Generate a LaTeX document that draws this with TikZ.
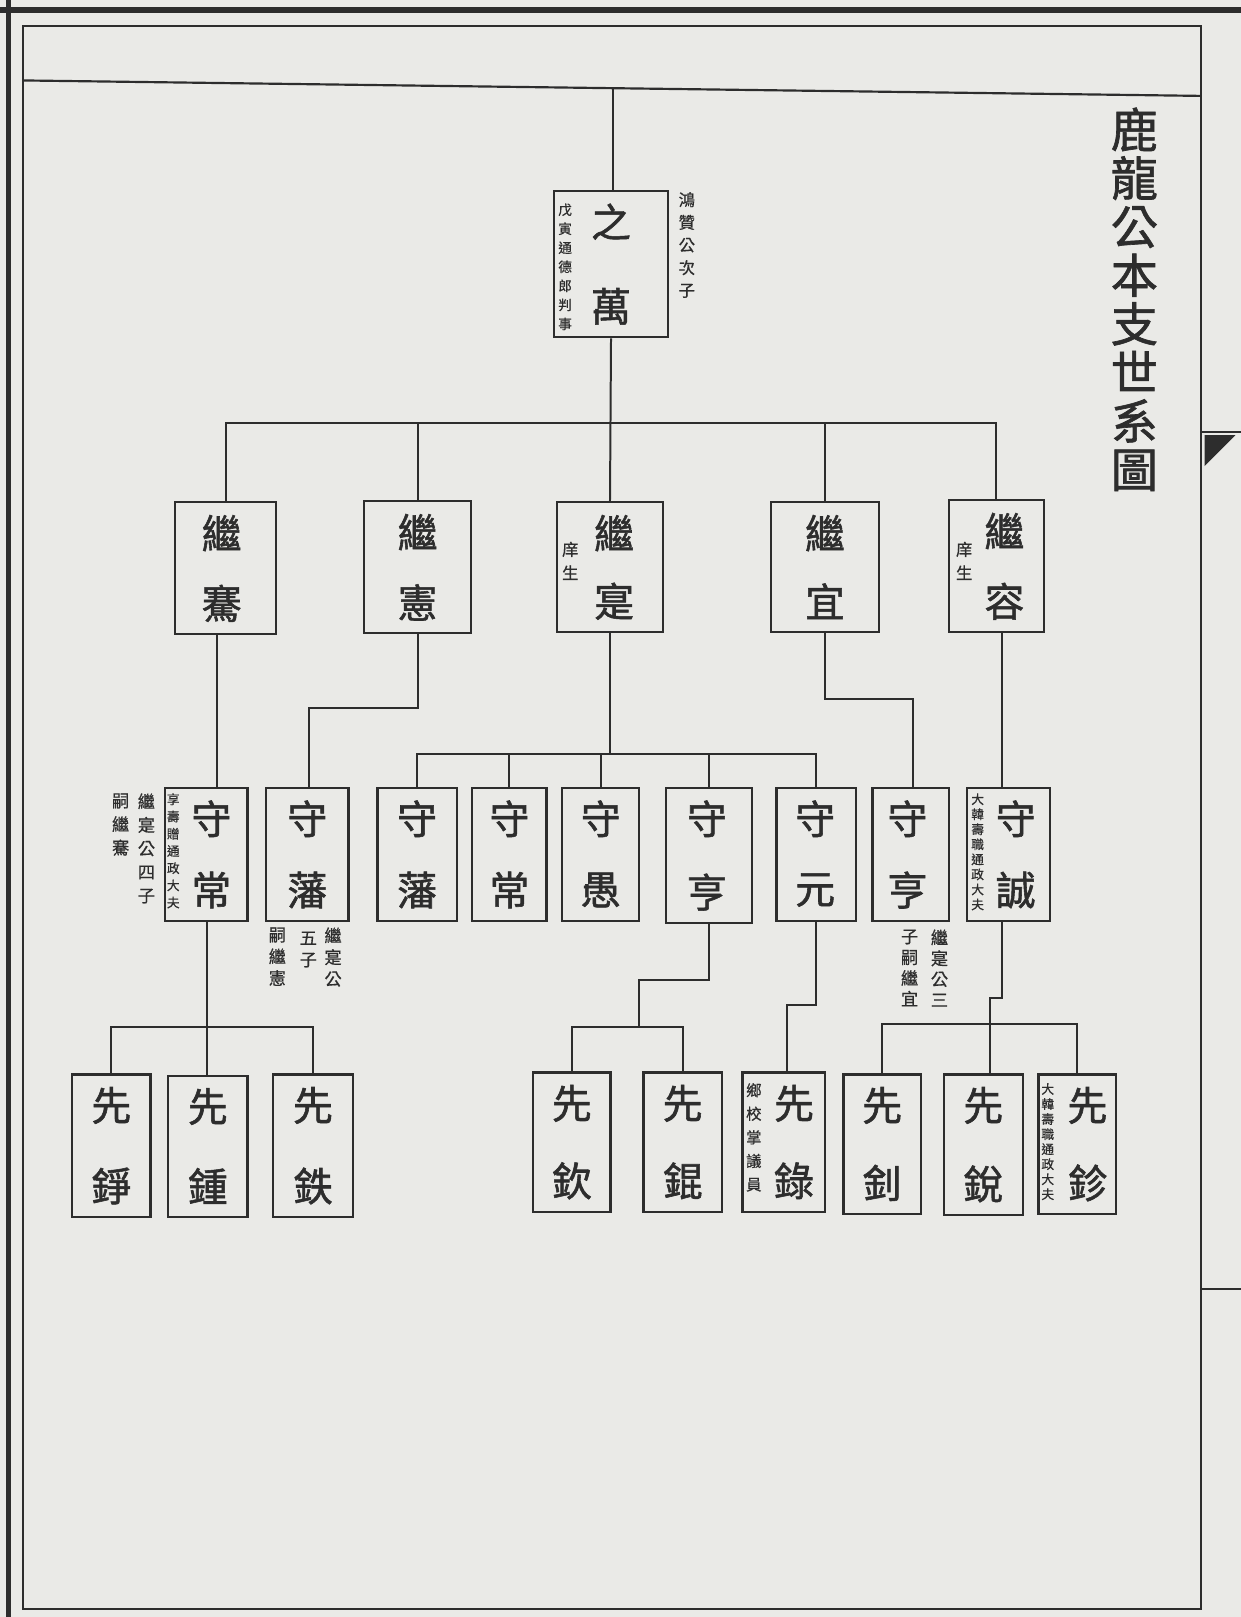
\documentclass[tikz,border=0pt]{standalone}
\usepackage{fontspec}
\newfontfamily\cjk[FakeBold=0.6]{Noto Sans CJK TC}
\newfontfamily\cjkb[FakeBold=1.4]{Noto Sans CJK TC}
\usetikzlibrary{fit,calc}
\definecolor{paper}{RGB}{234,234,231}
\definecolor{ink}{RGB}{45,45,45}
\newcommand{\fz}[2]{\fontsize{#1}{#2}\selectfont}
% person box: name, x1, y1, x2, y2, dx, top char, bottom char
\newcommand{\pb}[8]{%
  \node[pbox, fit={(#2,#3) (#4,#5)}] (#1) {};
  \node[big] (#1-a) at ($(#1.north)+(#6,31)$) {#7};
  \node[big] (#1-b) at ($(#1.south)+(#6,-31)$) {#8};}
\begin{document}
\begin{tikzpicture}[x=0.02cm,y=-0.02cm,
  pbox/.style={draw=ink, line width=1.2pt, inner sep=0pt},
  conn/.style={draw=ink, line width=1.1pt},
  big/.style={font=\cjkb\fz{22}{22}, text=ink, inner sep=0pt},
  vnote/.style={text=ink, align=center, inner sep=0pt, anchor=north}]
\fill[paper] (0,0) rectangle (1203,1568);
\useasboundingbox (0,0) rectangle (1203,1568);
% frames
\draw[ink, line width=3pt] (8,0) -- (8,1568);
\draw[ink, line width=3.2pt] (0,10) -- (1203,10);
\draw[ink, line width=1.1pt] (22,25) rectangle (1165,1560);
\draw[ink, line width=1.2pt] (22,78) -- (1165,93);
\draw[ink, line width=1pt] (1165,419) -- (1203,419);
\fill[ink] (1168,422) -- (1198,422) -- (1168,452) -- cycle;
\draw[ink, line width=1pt] (1165,1250) -- (1203,1250);
% title
\node[vnote, font=\cjkb\fz{26}{26.8}] (title) at (1100,104) {鹿\\龍\\公\\本\\支\\世\\系\\圖};
% generation 1
\pb{zw}{537}{185}{648}{327}{0}{之}{萬}
\node[vnote, font=\cjk\fz{7.5}{10.5}] (zwn) at (548,197) {戊\\寅\\通\\德\\郎\\判\\事};
\node[vnote, font=\cjk\fz{9}{12.5}] (zwr) at (666,186) {鴻\\贊\\公\\次\\子};
% generation 2
\pb{jq}{170}{487}{268}{615}{-4}{繼}{騫}
\pb{jh}{353}{486}{457}{614}{0}{繼}{憲}
\pb{jx}{540}{487}{643}{613}{4}{繼}{寔}
\pb{jy}{748}{487}{852}{613}{0}{繼}{宜}
\pb{jr}{920}{485}{1012}{613}{8}{繼}{容}
\node[vnote, font=\cjk\fz{9}{13}] (jxn) at (553,525) {庠\\生};
\node[vnote, font=\cjk\fz{9}{13}] (jrn) at (935,525) {庠\\生};
% generation 3
\pb{sA}{160}{764}{240}{893}{5}{守}{常}
\pb{fA}{258}{764}{338}{893}{0}{守}{藩}
\pb{fB}{366}{764}{443}{893}{0}{守}{藩}
\pb{sB}{458}{764}{530}{893}{0}{守}{常}
\pb{yu}{545}{764}{620}{893}{0}{守}{愚}
\pb{hA}{646}{764}{729}{895}{-2}{守}{亨}
\pb{yy}{753}{764}{830}{893}{-1}{守}{元}
\pb{hB}{846}{764}{920}{893}{-3}{守}{亨}
\pb{sc}{938}{764}{1018}{893}{7}{守}{誠}
\node[vnote, font=\cjk\fz{7}{9.5}] (sAn) at (168,769) {享\\壽\\贈\\通\\政\\大\\夫};
\node[vnote, font=\cjk\fz{9.5}{13}] (sAr) at (142,769) {繼\\寔\\公\\四\\子};
\node[vnote, font=\cjk\fz{9.5}{13}] (sAl) at (117,769) {嗣\\繼\\騫};
\node[vnote, font=\cjk\fz{9.5}{12}] (fAr) at (323,899) {繼\\寔\\公};
\node[vnote, font=\cjk\fz{9.5}{12}] (fAm) at (299,903) {五\\子};
\node[vnote, font=\cjk\fz{9.5}{12}] (fAl) at (269,899) {嗣\\繼\\憲};
\node[vnote, font=\cjk\fz{9.5}{11.5}] (hBr) at (911,901) {繼\\寔\\公\\三};
\node[vnote, font=\cjk\fz{9.5}{11.5}] (hBl) at (882,901) {子\\嗣\\繼\\宜};
\node[vnote, font=\cjk\fz{7}{8.3}] (scn) at (948,769) {大\\韓\\壽\\職\\通\\政\\大\\夫};
% generation 4
\pb{xa}{70}{1042}{146}{1180}{0}{先}{錚}
\pb{xb}{163}{1043}{240}{1180}{0}{先}{鍾}
\pb{xc}{265}{1042}{342}{1180}{0}{先}{鉄}
\pb{xq}{517}{1040}{592}{1175}{0}{先}{欽}
\pb{xk}{624}{1040}{700}{1175}{0}{先}{錕}
\pb{xl}{720}{1040}{800}{1175}{10}{先}{錄}
\pb{xd}{818}{1042}{893}{1177}{0}{先}{釗}
\pb{xr}{915}{1042}{992}{1178}{0}{先}{銳}
\pb{xm}{1007}{1042}{1082}{1177}{10}{先}{鉁}
\node[vnote, font=\cjk\fz{8.5}{13}] (xln) at (731,1050) {鄉\\校\\掌\\議\\員};
\node[vnote, font=\cjk\fz{7}{8.3}] (xmn) at (1016,1050) {大\\韓\\壽\\職\\通\\政\\大\\夫};
% connectors gen 1 -> 2
\coordinate (topj) at (594,86);
\draw[conn] (topj) -- (zw.north -| topj);
\draw[conn] (zw.south) -- (jx.north);
\coordinate (barA) at (0,410);
\draw[conn] (jq.north) -- (jq.north |- barA) -- (jr.north |- barA) -- (jr.north);
\draw[conn] (jh.north) -- (jh.north |- barA);
\draw[conn] (jy.north) -- (jy.north |- barA);
% gen 2 -> 3
\coordinate (c210) at (210,0);
\draw[conn] (jq.south -| c210) -- (sA.north -| c210);
\coordinate (kA) at (300,687);
\draw[conn] (jh.south) |- (kA) -- (fA.north -| kA);
\coordinate (barB) at (0,731);
\draw[conn] (jx.south) -- (jx.south |- barB);
\draw[conn] (fB.north) -- (fB.north |- barB) -- (yy.north |- barB) -- (yy.north);
\draw[conn] (sB.north) -- (sB.north |- barB);
\draw[conn] (yu.north) -- (yu.north |- barB);
\draw[conn] (hA.north) -- (hA.north |- barB);
\coordinate (kB) at (885,678);
\draw[conn] (jy.south) |- (kB) -- (hB.north -| kB);
\coordinate (c972) at (972,0);
\draw[conn] (jr.south -| c972) -- (sc.north -| c972);
% gen 3 -> 4
\coordinate (barC) at (0,996);
\coordinate (c201) at (201,0);
\draw[conn] (sA.south -| c201) -- (xb.north -| c201);
\draw[conn] (xa.north) -- (xa.north |- barC) -- (xc.north |- barC) -- (xc.north);
\coordinate (kC) at (620,950);
\coordinate (kD) at (620,996);
\draw[conn] (hA.south) |- (kC) -- (kD);
\draw[conn] (xq.north) |- (kD) -| (xk.north);
\coordinate (kE) at (763,975);
\draw[conn] (yy.south) |- (kE) -- (xl.north -| kE);
\coordinate (kF) at (960,968);
\coordinate (kG) at (960,993);
\draw[conn] (sc.south -| c972) |- (kF) -- (xr.north -| kF);
\draw[conn] (xd.north) |- (kG) -| (xm.north);
\end{tikzpicture}
\end{document}
